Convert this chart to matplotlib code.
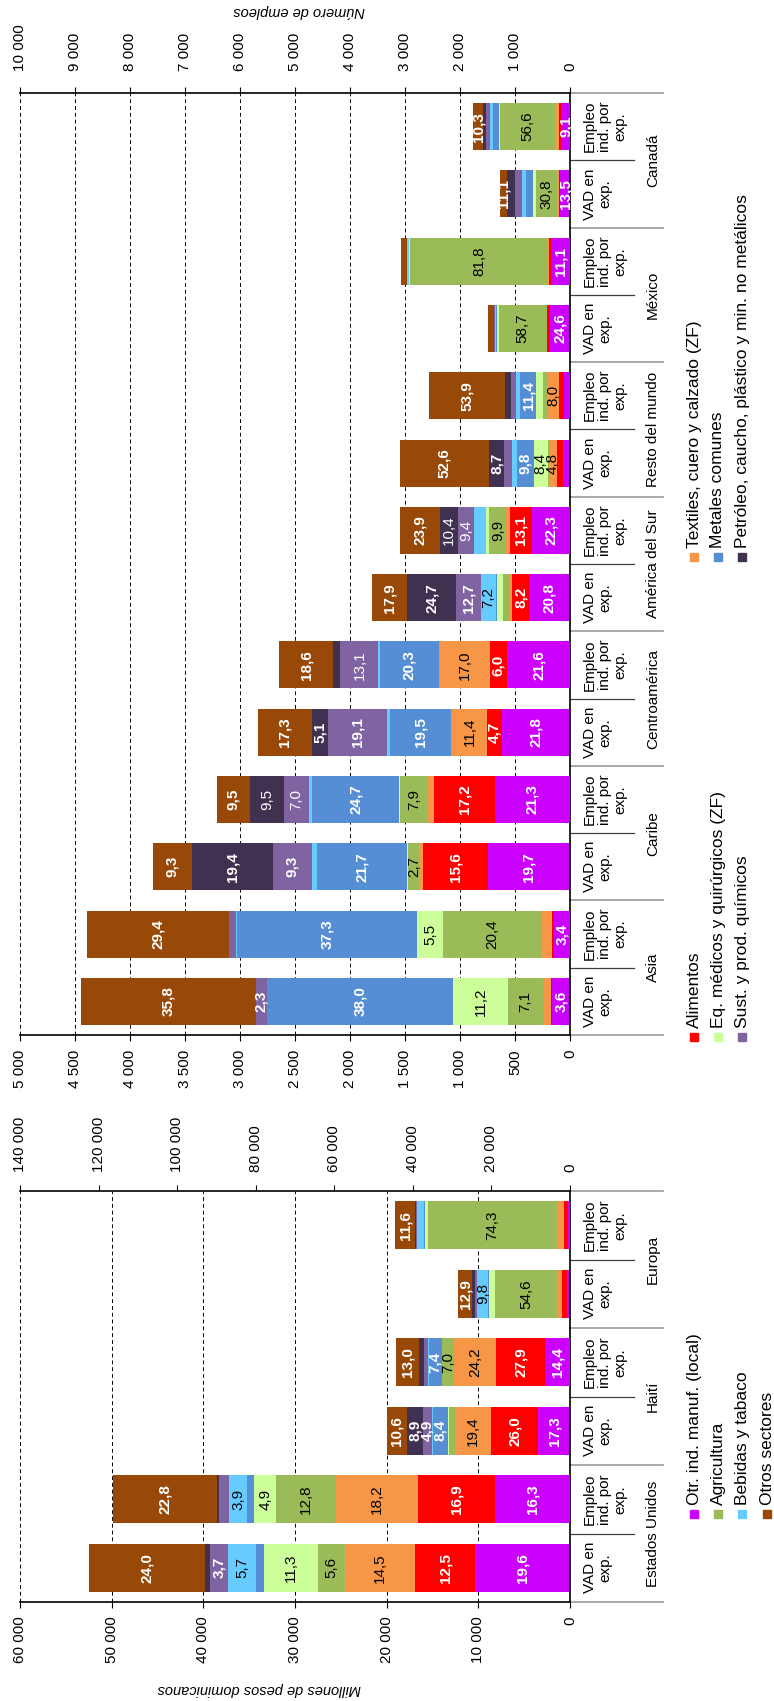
import numpy as np
import matplotlib
matplotlib.use("Agg")
import matplotlib.pyplot as plt
from matplotlib.patches import Rectangle
from matplotlib.ticker import FuncFormatter

plt.rcParams['font.family'] = ['Liberation Sans', 'DejaVu Sans']

# series, in stacking order (from the baseline outwards)
series = ["Otr. ind. manuf. (local)", "Alimentos", "Textiles, cuero y calzado (ZF)",
          "Agricultura", "Eq. médicos y quirúrgicos (ZF)", "Metales comunes",
          "Bebidas y tabaco", "Sust. y prod. químicos",
          "Petróleo, caucho, plástico y min. no metálicos", "Otros sectores"]
colores = ['#CC00FF', '#FF0000', '#F79646', '#9BBB59', '#CCFF99',
           '#558ED5', '#66CCFF', '#8064A2', '#403151', '#984807']

# panel 1: millones de pesos (VAD) y empleos (Empleo)
regiones_1 = ["Estados Unidos", "Haití", "Europa"]
vad_total_1 = [52600, 19950, 12250]
emp_total_1 = [116400, 44300, 44500]
pct_vad_1 = [[19.6, 12.5, 14.5, 5.6, 11.3, 1.7, 5.7, 3.7, 1.2, 24.0],
             [17.3, 26.0, 19.4, 3.6, 0.4, 8.4, 0.5, 4.9, 8.9, 10.6],
             [2.9, 4.5, 4.6, 54.6, 5.6, 0.5, 9.8, 2.4, 2.1, 12.9]]
pct_emp_1 = [[16.3, 16.9, 18.2, 12.8, 4.9, 1.5, 3.9, 2.2, 0.4, 22.8],
             [14.4, 27.9, 24.2, 7.0, 0.3, 7.4, 0.6, 2.3, 2.9, 13.0],
             [1.2, 2.0, 4.0, 74.3, 1.5, 0.3, 4.3, 0.5, 0.3, 11.6]]
lab_vad_1 = [[1, 1, 1, 1, 1, 0, 1, 1, 0, 1],
             [1, 1, 1, 0, 0, 1, 0, 1, 1, 1],
             [0, 0, 0, 1, 0, 0, 1, 0, 0, 1]]
lab_emp_1 = [[1, 1, 1, 1, 1, 0, 1, 0, 0, 1],
             [1, 1, 1, 1, 0, 1, 0, 0, 0, 1],
             [0, 0, 0, 1, 0, 0, 0, 0, 0, 1]]

# panel 2
regiones_2 = ["Asia", "Caribe", "Centroamérica", "América del Sur",
              "Resto del mundo", "México", "Canadá"]
vad_total_2 = [4450, 3790, 2840, 1805, 1550, 745, 640]
emp_total_2 = [8780, 6425, 5285, 3100, 2575, 3070, 1760]
pct_vad_2 = [[3.6, 0.3, 1.6, 7.1, 11.2, 38.0, 0.1, 2.3, 0.0, 35.8],
             [19.7, 15.6, 0.8, 2.7, 0.3, 21.7, 1.2, 9.3, 19.4, 9.3],
             [21.8, 4.7, 11.4, 0.2, 0.1, 19.5, 0.8, 19.1, 5.1, 17.3],
             [20.8, 8.2, 1.2, 3.3, 3.1, 0.8, 7.2, 12.7, 24.7, 17.9],
             [4.1, 3.6, 4.8, 0.5, 8.4, 9.8, 3.0, 4.5, 8.7, 52.6],
             [24.6, 3.5, 0.4, 58.7, 2.2, 0.8, 1.8, 0.8, 0.3, 6.8],
             [13.5, 2.5, 2.0, 30.8, 3.5, 10.4, 5.8, 9.9, 10.4, 11.1]]
pct_emp_2 = [[3.4, 0.3, 2.1, 20.4, 5.5, 37.3, 0.1, 1.5, 0.0, 29.4],
             [21.3, 17.2, 1.7, 7.9, 0.2, 24.7, 1.0, 7.0, 9.5, 9.5],
             [21.6, 6.0, 17.0, 0.3, 0.2, 20.3, 0.5, 13.1, 2.4, 18.6],
             [22.3, 13.1, 2.0, 9.9, 2.0, 0.1, 6.9, 9.4, 10.4, 23.9],
             [4.3, 3.6, 8.0, 3.0, 5.0, 11.4, 2.8, 3.8, 3.8, 53.9],
             [11.1, 1.5, 0.3, 81.8, 0.5, 0.3, 0.8, 0.2, 0.2, 3.2],
             [9.1, 2.4, 4.5, 56.6, 1.2, 5.3, 3.6, 4.4, 2.5, 10.3]]
lab_vad_2 = [[1, 0, 0, 1, 1, 1, 0, 1, 0, 1],
             [1, 1, 0, 1, 0, 1, 0, 1, 1, 1],
             [1, 1, 1, 0, 0, 1, 0, 1, 1, 1],
             [1, 1, 0, 0, 0, 0, 1, 1, 1, 1],
             [0, 0, 1, 0, 1, 1, 0, 0, 1, 1],
             [1, 0, 0, 1, 0, 0, 0, 0, 0, 0],
             [1, 0, 0, 1, 0, 0, 0, 0, 0, 1]]
lab_emp_2 = [[1, 0, 0, 1, 1, 1, 0, 0, 0, 1],
             [1, 1, 0, 1, 0, 1, 0, 1, 1, 1],
             [1, 1, 1, 0, 0, 1, 0, 1, 0, 1],
             [1, 1, 0, 1, 0, 0, 0, 1, 1, 1],
             [0, 0, 1, 0, 0, 1, 0, 0, 0, 1],
             [1, 0, 0, 1, 0, 0, 0, 0, 0, 0],
             [1, 0, 0, 1, 0, 0, 0, 0, 0, 1]]

W, H = 774, 1701
fig = plt.figure(figsize=(W / 100, H / 100), dpi=100)


def fx(x):
    return x / W


def fy(y):
    return 1 - y / H


miles = FuncFormatter(lambda v, p: f"{int(v):,}".replace(",", " "))
texto_blanco = {0, 1, 5, 7, 8, 9}


def panel(top, bottom, regiones, vad_tot, emp_tot, pct_vad, pct_emp, lab_vad, lab_emp,
          vmax, vstep, emax, estep, pad_top):
    ax = fig.add_axes([fx(20), fy(bottom), fx(570) - fx(20), fy(top) - fy(bottom)])
    ax2 = ax.twiny()
    n = len(regiones)
    for i in range(n):
        barras = [(2 * i, ax, vad_tot[i], pct_vad[i], lab_vad[i], False),
                  (2 * i + 1, ax2, emp_tot[i], pct_emp[i], lab_emp[i], True)]
        for yb, a, tot, pct, lab, empleo in barras:
            left = 0
            for k in range(10):
                w = tot * pct[k] / 100
                a.barh(yb, w, left=left, height=0.7, color=colores[k], linewidth=0)
                if lab[k]:
                    blanco = k in texto_blanco
                    peso = 'bold' if blanco and not (empleo and k in (7, 8) and vmax < 10000) else 'normal'
                    a.text(left + w / 2, yb, f"{pct[k]:.1f}".replace(".", ","), rotation=90,
                           ha='center', va='center', fontsize=11, fontweight=peso,
                           color='white' if blanco else 'black')
                left += w
        tr = ax.get_yaxis_transform()
        ax.text(1.024, 2 * i, "VAD en\nexp.", transform=tr, rotation=90, ha='left',
                va='center', multialignment='center', fontsize=11, linespacing=1.15)
        ax.text(1.024, 2 * i + 1, "Empleo\nind. por\nexp.", transform=tr, rotation=90,
                ha='left', va='center', multialignment='center', fontsize=11, linespacing=1.1)
        ax.text(1.138, 2 * i + 0.5, regiones[i], transform=tr, rotation=90, ha='left',
                va='center', fontsize=11)
        ax.plot([1, 1.116], [2 * i + 0.5] * 2, transform=tr, clip_on=False,
                color='#404040', lw=0.9)
        ax.plot([1, 1.169], [2 * i - 0.5] * 2, transform=tr, clip_on=False,
                color='#999999', lw=1.2)
    ax.plot([1, 1.169], [2 * n - 0.5] * 2, transform=ax.get_yaxis_transform(),
            clip_on=False, color='#999999', lw=1.2)

    ax.set_xlim(vmax, 0)
    ax2.set_xlim(emax, 0)
    ax.set_ylim(-0.5, 2 * n - 0.5)
    ax.set_yticks([])
    ax.set_xticks(np.arange(0, vmax + 1, vstep))
    ax2.set_xticks(np.arange(0, emax + 1, estep))
    ax.xaxis.set_major_formatter(miles)
    ax2.xaxis.set_major_formatter(miles)
    ax.grid(axis='x', linestyle=(0, (4, 3)), color='black', lw=0.7)
    ax.set_axisbelow(True)
    ax.tick_params(axis='x', labelrotation=90, labelsize=11, direction='out',
                   length=4, pad=6.5)
    ax2.tick_params(axis='x', labelrotation=90, labelsize=11, direction='out',
                    length=4, pad=pad_top)
    for s in ['left', 'top']:
        ax.spines[s].set_visible(False)
    for s in ['left', 'bottom', 'right']:
        ax2.spines[s].set_visible(False)
    ax.spines['right'].set_linewidth(1.2)
    ax.spines['bottom'].set_linewidth(1.2)
    ax2.spines['top'].set_linewidth(1.2)
    return ax


panel(1191, 1602, regiones_1, vad_total_1, emp_total_1, pct_vad_1, pct_emp_1,
      lab_vad_1, lab_emp_1, 60000, 10000, 140000, 20000, 10)
panel(93, 1035, regiones_2, vad_total_2, emp_total_2, pct_vad_2, pct_emp_2,
      lab_vad_2, lab_emp_2, 5000, 500, 10000, 1000, 12)

fig.text(fx(259), fy(1689), "Millones de pesos dominicanos", rotation=180,
         style='italic', ha='center', va='center', fontsize=10.5)
fig.text(fx(299), fy(11), "Número de empleos", rotation=180,
         style='italic', ha='center', va='center', fontsize=10.5)

# legend, drawn rotated like the rest
columnas = [[0, 3, 6, 9], [1, 4, 7], [2, 5, 8]]
col_y = [1514, 1037, 557]
fila_x = [694, 718, 742, 767]
for c, idx in enumerate(columnas):
    for r, k in enumerate(idx):
        x, y = fila_x[r], col_y[c]
        fig.add_artist(Rectangle((fx(x - 4), fy(y + 4)), 8 / W, 8 / H,
                                 transform=fig.transFigure, color=colores[k]))
        fig.text(fx(x), fy(y - 9), series[k], rotation=90, ha='center', va='bottom',
                 fontsize=12.5)

fig.savefig("out.png", dpi=100)
